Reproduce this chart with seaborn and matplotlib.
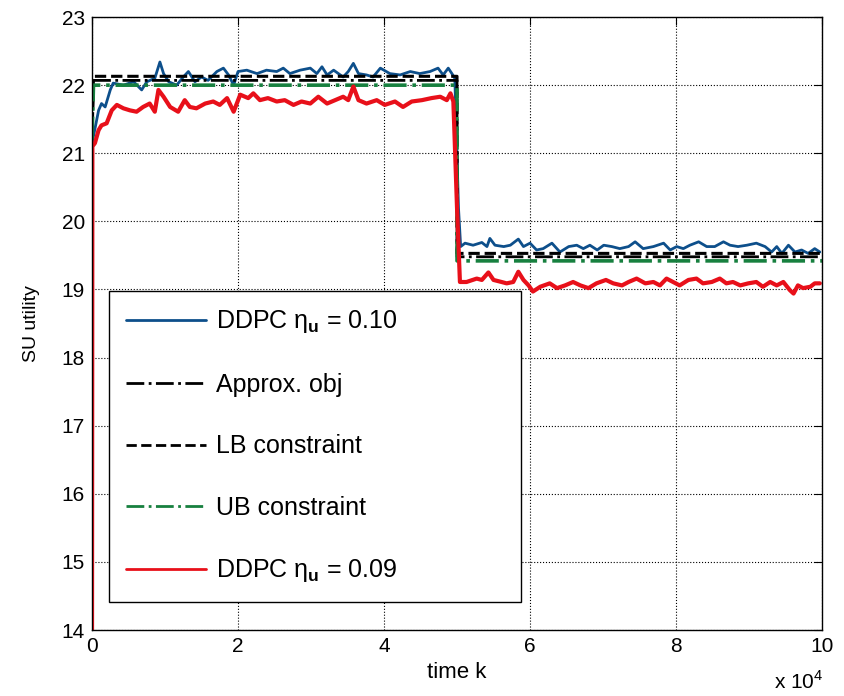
import numpy as np
import pandas as pd
import matplotlib
matplotlib.use("Agg")
import matplotlib.pyplot as plt
import seaborn as sns

# time axis in units of 1e4
blue_k = [0.0, 0.018, 0.09, 0.13, 0.18, 0.25, 0.29, 0.43, 0.57, 0.68, 0.75, 0.86, 0.93, 0.98,
          1.05, 1.16, 1.25, 1.32, 1.41, 1.50, 1.59, 1.71, 1.80, 1.87, 1.94, 2.00, 2.12, 2.26,
          2.39, 2.53, 2.62, 2.71, 2.85, 2.99, 3.08, 3.15, 3.22, 3.31, 3.44, 3.51, 3.58, 3.65,
          3.76, 3.85, 3.95, 4.08, 4.22, 4.36, 4.49, 4.63, 4.74, 4.81, 4.88, 4.93, 4.97, 5.02,
          5.05, 5.11, 5.22, 5.34, 5.41, 5.45, 5.52, 5.64, 5.73, 5.84, 5.91, 6.00, 6.09, 6.18,
          6.30, 6.41, 6.53, 6.64, 6.73, 6.82, 6.92, 7.01, 7.12, 7.23, 7.35, 7.44, 7.55, 7.69,
          7.83, 7.92, 8.01, 8.10, 8.19, 8.31, 8.42, 8.53, 8.65, 8.74, 8.85, 8.97, 9.10, 9.22,
          9.31, 9.38, 9.45, 9.54, 9.63, 9.72, 9.81, 9.90, 9.97]
blue_u = [21.1, 21.24, 21.63, 21.73, 21.68, 21.93, 22.03, 22.00, 22.05, 21.93, 22.05, 22.10,
          22.34, 22.17, 22.05, 22.00, 22.12, 22.20, 22.05, 22.12, 22.07, 22.20, 22.25, 22.15,
          22.00, 22.20, 22.22, 22.17, 22.22, 22.20, 22.25, 22.17, 22.22, 22.25, 22.17, 22.27,
          22.15, 22.22, 22.12, 22.20, 22.32, 22.17, 22.15, 22.12, 22.25, 22.17, 22.15, 22.20,
          22.17, 22.20, 22.25, 22.15, 22.25, 22.17, 22.10, 20.2,
          19.63, 19.68, 19.65, 19.69, 19.63, 19.75, 19.65, 19.63, 19.65, 19.74, 19.63, 19.68,
          19.58, 19.60, 19.68, 19.55, 19.63, 19.65, 19.60, 19.65, 19.58, 19.65, 19.63, 19.60,
          19.63, 19.70, 19.60, 19.63, 19.68, 19.58, 19.63, 19.60, 19.65, 19.70, 19.63, 19.63,
          19.70, 19.65, 19.63, 19.65, 19.68, 19.63, 19.55, 19.63, 19.53, 19.65, 19.55, 19.58,
          19.53, 19.60, 19.55]

red_k = [0.0, 0.005, 0.04, 0.09, 0.13, 0.20, 0.27, 0.34, 0.43, 0.52, 0.61, 0.70, 0.79, 0.86,
         0.91, 0.98, 1.07, 1.18, 1.27, 1.34, 1.43, 1.55, 1.66, 1.75, 1.85, 1.94, 2.03, 2.14,
         2.21, 2.30, 2.41, 2.53, 2.64, 2.76, 2.87, 2.99, 3.10, 3.22, 3.33, 3.44, 3.51, 3.58,
         3.65, 3.76, 3.90, 4.01, 4.15, 4.26, 4.38, 4.52, 4.65, 4.77, 4.86, 4.91, 4.95, 5.00,
         5.04, 5.13, 5.27, 5.34, 5.43, 5.50, 5.61, 5.68, 5.77, 5.84, 5.91, 5.98, 6.04, 6.14,
         6.27, 6.37, 6.48, 6.59, 6.69, 6.80, 6.91, 7.04, 7.14, 7.26, 7.35, 7.46, 7.58, 7.69,
         7.78, 7.87, 7.96, 8.05, 8.17, 8.28, 8.37, 8.49, 8.60, 8.69, 8.78, 8.88, 8.99, 9.10,
         9.19, 9.29, 9.38, 9.47, 9.56, 9.61, 9.67, 9.74, 9.84, 9.90, 9.97]
red_u = [14.0, 21.1, 21.15, 21.34, 21.41, 21.44, 21.63, 21.71, 21.66, 21.63, 21.61, 21.68,
         21.73, 21.61, 21.93, 21.83, 21.68, 21.61, 21.78, 21.68, 21.66, 21.73, 21.76, 21.71,
         21.81, 21.61, 21.86, 21.81, 21.88, 21.78, 21.81, 21.76, 21.78, 21.71, 21.76, 21.73,
         21.83, 21.73, 21.78, 21.83, 21.78, 21.98, 21.78, 21.73, 21.78, 21.71, 21.76, 21.68,
         21.76, 21.78, 21.81, 21.83, 21.78, 21.88, 21.76, 20.2,
         19.11, 19.11, 19.16, 19.14, 19.25, 19.14, 19.11, 19.09, 19.11, 19.26, 19.14, 19.06,
         18.97, 19.04, 19.09, 19.02, 19.06, 19.11, 19.06, 19.02, 19.09, 19.14, 19.09, 19.06,
         19.11, 19.16, 19.09, 19.11, 19.06, 19.16, 19.11, 19.06, 19.14, 19.16, 19.09, 19.11,
         19.16, 19.09, 19.11, 19.06, 19.09, 19.11, 19.04, 19.11, 19.06, 19.11, 18.99, 18.94,
         19.06, 19.02, 19.04, 19.09, 19.09]

step_k = [0.0, 0.02, 5.0, 5.0, 10.0]
approx_u = [21.2, 22.07, 22.07, 19.48, 19.48]
lb_u = [21.2, 22.13, 22.13, 19.53, 19.53]
ub_u = [21.2, 22.00, 22.00, 19.42, 19.42]

labels = [r'DDPC η$_\mathbf{u}$ = 0.10', 'Approx. obj', 'LB constraint',
          'UB constraint', r'DDPC η$_\mathbf{u}$ = 0.09']

sns.set_style('white')
plt.rcParams['font.family'] = ['Liberation Sans', 'DejaVu Sans']
plt.rcParams['text.color'] = 'black'
plt.rcParams['axes.labelcolor'] = 'black'
plt.rcParams['mathtext.fontset'] = 'custom'
plt.rcParams['mathtext.bf'] = 'Liberation Sans:bold'
plt.rcParams['mathtext.rm'] = 'Liberation Sans'

fig = plt.figure(figsize=(8.45, 6.96), dpi=100)
ax = fig.add_axes([0.1089, 0.0948, 0.8639, 0.8807])

sns.lineplot(x=blue_k, y=blue_u, ax=ax, color='#0d4f8b', lw=2.0, label=labels[0],
             estimator=None, sort=False)
sns.lineplot(x=step_k, y=approx_u, ax=ax, color='black', lw=2.0, ls='-.', label=labels[1],
             estimator=None, sort=False)
sns.lineplot(x=step_k, y=lb_u, ax=ax, color='black', lw=2.2, ls='--', label=labels[2],
             estimator=None, sort=False)
sns.lineplot(x=step_k, y=ub_u, ax=ax, color='#17803f', lw=2.6, ls='-.', label=labels[3],
             estimator=None, sort=False)
sns.lineplot(x=red_k, y=red_u, ax=ax, color='#e8101a', lw=3.0, label=labels[4],
             estimator=None, sort=False)

ax.set_xlim(0, 10)
ax.set_ylim(14, 23)
ax.set_xticks(range(0, 11, 2))
ax.set_yticks(range(14, 24))
ax.grid(True, color='black', ls=':', lw=0.8)
ax.tick_params(direction='in', length=6, top=True, right=True, labelsize=15,
               colors='black', pad=5)
for s in ax.spines.values():
    s.set_color('black')
    s.set_linewidth(1.0)

ax.set_xlabel('time k', fontsize=16, labelpad=4)
ax.set_ylabel('SU utility', fontsize=14, labelpad=16)
fig.text(0.975, 0.005, r'x 10$^4$', fontsize=15, ha='right', va='bottom')

leg = ax.legend(loc='lower left', bbox_to_anchor=(0.023, 0.046, 0.564, 0.509),
                mode='expand', fontsize=18, handlelength=3.2, handletextpad=0.4,
                labelspacing=1.5, borderpad=0.7, borderaxespad=0, frameon=True,
                fancybox=False, framealpha=1, edgecolor='black')
leg.get_frame().set_linewidth(1.0)
for line in leg.get_lines():
    line.set_linewidth(2.0)

fig.savefig('out.png', dpi=100)
